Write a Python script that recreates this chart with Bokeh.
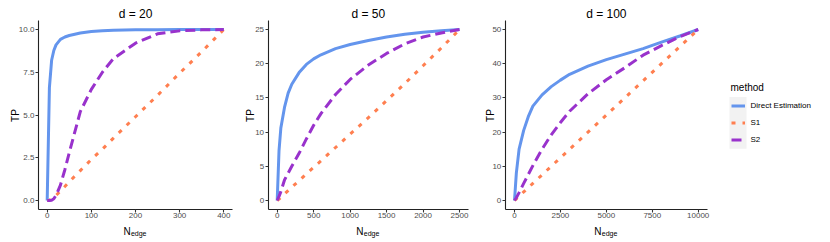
import math
from bokeh.plotting import figure
from bokeh.layouts import row
from bokeh.models import (Range1d, FixedTicker, Label, Legend, LegendItem,
                          BoxAnnotation, PrintfTickFormatter)
from bokeh.embed import file_html
from bokeh.resources import INLINE

# ---------------- data ----------------
methods = ["Direct Estimation", "S1", "S2"]

# d = 20
n_d20 = [0, 5, 10, 15, 20, 30, 40, 50, 75, 100, 125, 150, 200, 250, 300, 350, 400]
de_d20 = [0, 6.6, 8.2, 8.77, 9.1, 9.42, 9.56, 9.65, 9.8, 9.88, 9.93, 9.96, 9.98, 9.99, 10, 10, 10]
s1_d20 = [0, 0.02, 0.1, 0.18, 0.3, 0.55, 0.82, 1.1, 1.75, 2.4, 3.0, 3.65, 4.9, 6.15, 7.45, 8.7, 10]
s2_d20 = [0, 0, 0.02, 0.1, 0.3, 0.9, 1.8, 2.8, 5.2, 6.5, 7.5, 8.3, 9.2, 9.75, 9.92, 9.98, 10]

# d = 50
n_d50 = [0, 25, 50, 100, 150, 200, 300, 400, 500, 600, 800, 1000, 1250, 1500, 1750, 2000, 2250, 2500]
de_d50 = [0, 7.3, 10.6, 13.6, 15.7, 17.0, 18.7, 19.9, 20.7, 21.3, 22.2, 22.8, 23.4, 23.9, 24.3, 24.6, 24.8, 25.0]
s1_d50 = [0, 0.2, 0.45, 0.95, 1.45, 1.95, 2.9, 3.9, 4.85, 5.8, 7.75, 9.7, 12.1, 14.6, 17.1, 19.7, 22.3, 25.0]
s2_d50 = [0, 0.6, 1.3, 3.0, 4.0, 5.0, 6.9, 9.0, 11.0, 12.7, 15.5, 17.7, 19.8, 21.5, 22.9, 23.9, 24.5, 25.0]

# d = 100
n_d100 = [0, 100, 250, 500, 750, 1000, 1500, 2000, 2500, 3000, 4000, 5000, 6000, 7000, 8000, 9000, 10000]
de_d100 = [0, 8.0, 15.0, 20.5, 24.5, 27.6, 30.9, 33.3, 35.2, 36.9, 39.3, 41.2, 42.8, 44.4, 46.3, 48.1, 50]
s1_d100 = [0, 0.5, 1.25, 2.5, 3.75, 5, 7.5, 10, 12.5, 15, 20, 25, 30, 35, 40, 45, 50]
s2_d100 = [0, 0.8, 2.3, 5.0, 7.6, 10.2, 15.0, 19.2, 22.8, 26.1, 31.2, 35.3, 38.8, 42.5, 45.3, 47.9, 50]

titles = ["d = 20", "d = 50", "d = 100"]
x_ticks = [[0, 100, 200, 300, 400], [0, 500, 1000, 1500, 2000, 2500], [0, 2500, 5000, 7500, 10000]]
y_ticks = [[0, 2.5, 5, 7.5, 10], [0, 5, 10, 15, 20, 25], [0, 10, 20, 30, 40, 50]]
y_formats = ["%.1f", "%d", "%d"]

# ---------------- style / layout (page pixels) ----------------
colors = ["#6495ED", "#FF7F50", "#9932CC"]
dashes = ["solid", "4 7", "10 5"]
LW = 3.0
FONT = "Liberation Sans"
PAGE = 0                       # bokeh's page template has no body margin
H = 242                        # canvas height
FIG_LEFT = [0, 238, 478]       # page x of each canvas
FIG_W = [238, 240, 352]
X0_PX = [46.7, 276.7, 514.0]   # page x where N = 0
X1_PX = [223.3, 459.0, 697.7]  # page x where N = max
Y0_PX, Y1_PX = 200.0, 29.0     # page y where TP = 0 / TP = max
TP_X = [15.2, 249.5, 490.0]    # baseline x of rotated "TP"
TITLE_Y = 13.4
N_Y, EDGE_Y = 230.5, 232.5


def make_panel(idx, n, series):
    xmax = max(n)
    ymax = max(max(s) for s in series)
    W = FIG_W[idx]
    left = FIG_LEFT[idx]
    ax_px = (X1_PX[idx] - X0_PX[idx]) / xmax
    ay_px = (Y0_PX - Y1_PX) / ymax
    xs = (left - X0_PX[idx]) / ax_px
    xe = xs + W / ax_px
    yb = (Y0_PX - (PAGE + H)) / ay_px
    yt = (Y0_PX - PAGE) / ay_px

    p = figure(width=W, height=H, x_range=Range1d(xs, xe), y_range=Range1d(yb, yt),
               output_backend="svg", toolbar_location=None)
    p.min_border = 0
    p.min_border_left = p.min_border_right = p.min_border_top = p.min_border_bottom = 0
    p.xgrid.visible = False
    p.ygrid.visible = False
    p.outline_line_color = None
    p.background_fill_color = "white"
    p.border_fill_color = "white"

    xlo, xhi = -0.05 * xmax, 1.05 * xmax
    ylo, yhi = -0.05 * ymax, 1.05 * ymax

    for ax in (p.xaxis[0], p.yaxis[0]):
        ax.axis_line_color = "#222222"
        ax.axis_line_width = 1.1
        ax.major_tick_line_color = "#333333"
        ax.major_tick_line_width = 1.1
        ax.major_tick_out = 3
        ax.major_tick_in = 0
        ax.minor_tick_line_color = None
        ax.major_label_text_font = FONT
        ax.major_label_text_font_size = "8px"
        ax.major_label_text_color = "#4D4D4D"
        ax.major_label_standoff = 1
    p.xaxis.fixed_location = ylo
    p.xaxis.bounds = (xlo, xhi)
    p.yaxis.fixed_location = xlo
    p.yaxis.bounds = (ylo, yhi)
    p.xaxis.ticker = FixedTicker(ticks=x_ticks[idx])
    p.yaxis.ticker = FixedTicker(ticks=y_ticks[idx])
    p.xaxis.formatter = PrintfTickFormatter(format="%d")
    p.yaxis.formatter = PrintfTickFormatter(format=y_formats[idx])

    renderers = []
    for s, c, d in zip(series, colors, dashes):
        r = p.line(n, s, line_color=c, line_width=LW, line_dash=d)
        renderers.append(r)

    def sx(page_x):
        return page_x - left

    def sy(page_y):
        return H - (page_y - PAGE)

    cx = (X0_PX[idx] + X1_PX[idx]) / 2
    p.add_layout(Label(x=sx(cx), y=sy(TITLE_Y), x_units="screen", y_units="screen",
                       text=titles[idx], text_align="center", text_baseline="alphabetic",
                       text_font=FONT, text_font_size="12px", text_color="black"))
    p.add_layout(Label(x=sx(cx - 12.0), y=sy(N_Y), x_units="screen", y_units="screen",
                       text="N", text_align="left", text_baseline="alphabetic",
                       text_font=FONT, text_font_size="10px", text_color="black"))
    p.add_layout(Label(x=sx(cx - 4.6), y=sy(EDGE_Y), x_units="screen", y_units="screen",
                       text="edge", text_align="left", text_baseline="alphabetic",
                       text_font=FONT, text_font_size="7px", text_color="black"))
    p.add_layout(Label(x=sx(TP_X[idx]), y=sy((Y0_PX + Y1_PX) / 2 + 0.5), x_units="screen",
                       y_units="screen", angle=math.pi / 2,
                       text="TP", text_align="center", text_baseline="alphabetic",
                       text_font=FONT, text_font_size="10px", text_color="black"))
    return p, renderers, sx, sy


p1, _, _, _ = make_panel(0, n_d20, [de_d20, s1_d20, s2_d20])
p2, _, _, _ = make_panel(1, n_d50, [de_d50, s1_d50, s2_d50])
p3, rs, sx3, sy3 = make_panel(2, n_d100, [de_d100, s1_d100, s2_d100])

# legend key background (page px: x 729-746, y 96.5-148.3)
p3.add_layout(BoxAnnotation(left=sx3(729), right=sx3(746), bottom=sy3(148.3), top=sy3(96.5),
                            left_units="screen", right_units="screen",
                            bottom_units="screen", top_units="screen",
                            fill_color="#F2F2F2", fill_alpha=1.0, line_alpha=0))

legend = Legend(items=[LegendItem(label=m, renderers=[r]) for m, r in zip(methods, rs)],
                location=(sx3(730.5), sy3(148.3)), title="method",
                title_text_font=FONT, title_text_font_size="10px",
                title_text_font_style="normal", title_text_color="black", title_standoff=4,
                label_text_font=FONT, label_text_font_size="8px", label_text_color="black",
                glyph_width=14, glyph_height=17, label_height=17, label_standoff=6,
                spacing=0, padding=0, margin=0,
                border_line_alpha=0, background_fill_alpha=0)
p3.add_layout(legend)

layout = row(p1, p2, p3)

open("out.html", "w").write(file_html(layout, INLINE))
